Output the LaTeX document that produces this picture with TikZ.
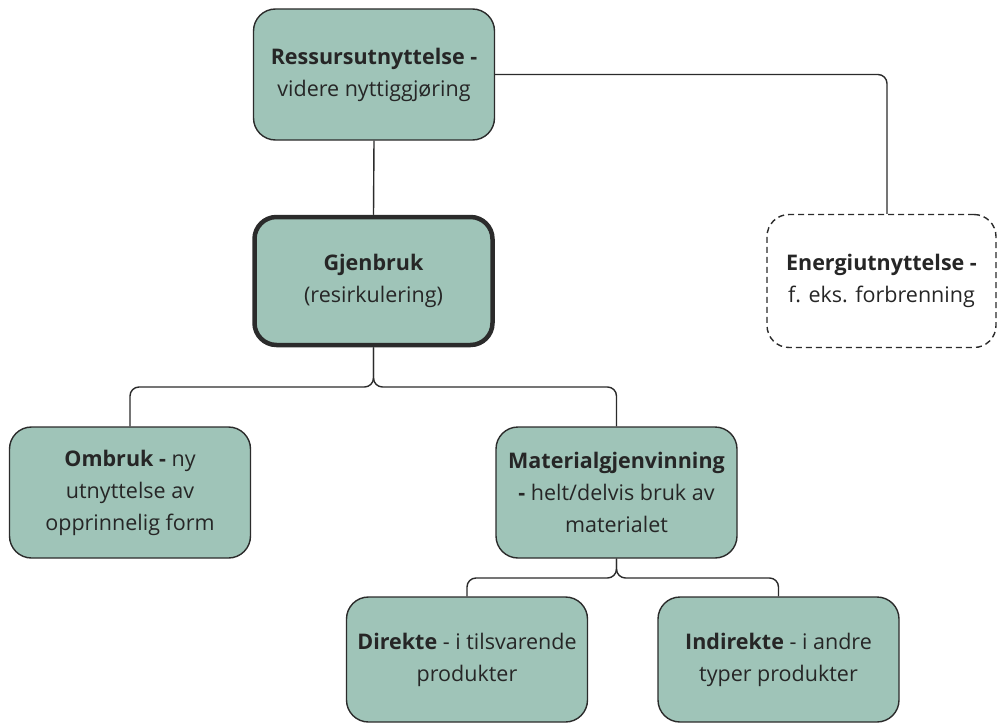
\documentclass[tikz,border=0pt]{standalone}
\usepackage{fontspec}
\setmainfont{Open Sans}
\definecolor{boxfill}{HTML}{9FC4B8}
\definecolor{lineclr}{HTML}{2B2B2B}
\begin{document}
\begin{tikzpicture}[x=1pt,y=-1pt,
  box/.style={draw=lineclr,fill=boxfill,line width=1.4pt,rounded corners=22pt,
    minimum width=241pt,minimum height=131pt,inner sep=0pt,align=center,
    font=\fontsize{21.5}{32}\selectfont,text=black!85},
  conn/.style={draw=lineclr,line width=1.4pt,rounded corners=9pt}]
\useasboundingbox (0,0) rectangle (999,725);
\node[box] (top) at (374,74.5) {\textbf{Ressursutnyttelse -}\\videre nyttiggjøring};
\node[box,line width=4.5pt,minimum width=238pt,minimum height=128pt] (gj) at (373.5,281) {\textbf{Gjenbruk}\\(resirkulering)};
\node[box,fill=white,dashed,dash pattern=on 6pt off 4pt,minimum width=229pt,minimum height=133pt] (en) at (881.5,281) {\textbf{Energiutnyttelse -}\\f. eks. forbrenning};
\node[box] (om) at (130,492.5) {\textbf{Ombruk -} ny\\utnyttelse av\\opprinnelig form};
\node[box] (ma) at (616.5,492.5) {\textbf{Materialgjenvinning}\\\textbf{-} helt/delvis bruk av\\materialet};
\node[box,minimum height=125pt] (di) at (467,659.5) {\textbf{Direkte} - i tilsvarende\\produkter};
\node[box,minimum height=125pt] (in) at (778.5,659.5) {\textbf{Indirekte} - i andre\\typer produkter};
\coordinate (b1) at (0,387);
\coordinate (b2) at (0,578);
\coordinate (ej) at (887,0);
\draw[conn] (top.south) -- (gj.north);
\draw[conn] (top.east) -| (ej |- en.north);
\draw[conn] (gj.south) |- (om.north |- b1) -- (om.north);
\draw[conn] (gj.south) |- (ma.north |- b1) -- (ma.north);
\draw[conn] (ma.south) |- (di.north |- b2) -- (di.north);
\draw[conn] (ma.south) |- (in.north |- b2) -- (in.north);
\end{tikzpicture}
\end{document}
